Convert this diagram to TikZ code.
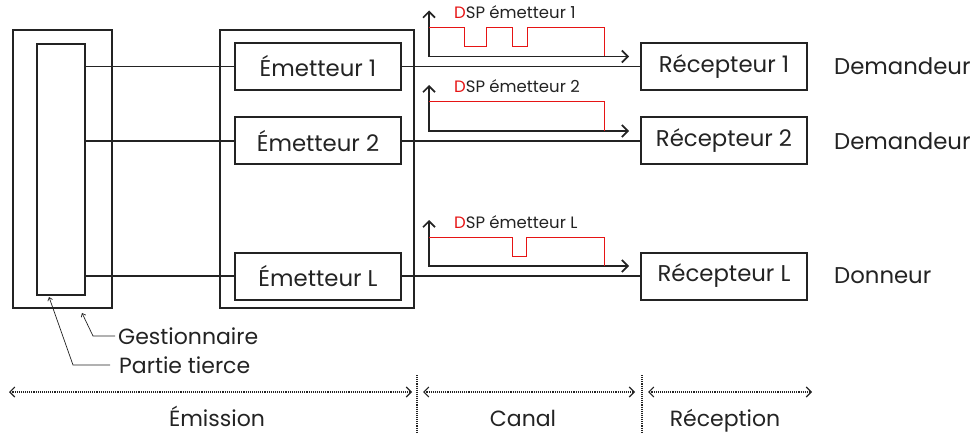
\documentclass[tikz,border=0pt]{standalone}
\usepackage{fontspec}
\setmainfont{Poppins}
\usetikzlibrary{arrows.meta, positioning, calc}
\definecolor{cInk}{RGB}{35,35,35}
\definecolor{cSig}{RGB}{230,20,20}
\tikzset{
	outerbox/.style={rectangle, draw=cInk, line width=2pt, inner sep=0pt},
	blk/.style     ={rectangle, draw=cInk, line width=2pt, minimum width=166pt, minimum height=47pt, inner sep=0pt, font=\fontsize{22.8}{26}\selectfont},
	wire/.style    ={draw=cInk, line width=1.8pt},
	axisarr/.style ={{Straight Barb[length=6pt,width=12pt]}-{Straight Barb[length=6pt,width=12pt]}, draw=cInk, line width=1.7pt},
	pulse/.style   ={draw=cSig, line width=1pt},
	siglbl/.style  ={anchor=base west, inner sep=0pt, font=\fontsize{16.5}{19}\selectfont},
	role/.style    ={anchor=west, inner sep=0pt, font=\fontsize{22.8}{26}\selectfont},
	notelbl/.style ={anchor=west, inner sep=0pt, font=\fontsize{22}{25}\selectfont},
	note/.style    ={-{Straight Barb[length=3pt,width=5pt]}, draw=cInk, line width=0.7pt},
	% bottom zones
	zone/.style    ={{Straight Barb[length=5pt,width=10pt]}-{Straight Barb[length=5pt,width=10pt]}, draw=cInk, densely dotted, line width=1.1pt},
	sep/.style     ={draw=cInk, densely dotted, line width=1.1pt},
	zonelbl/.style ={anchor=base, inner sep=0pt, font=\fontsize{22}{25}\selectfont},
}
\begin{document}
\begin{tikzpicture}[x=1pt, y=1pt, text=cInk]
	\useasboundingbox (0,0) rectangle (970,432);
	% manager and third party
	\node[outerbox, minimum width=99pt, minimum height=278pt] (gest) at (62.5,263) {};
	\node[outerbox, minimum width=48pt, minimum height=251pt] (tiers) at (61,262.5) {};
	% emission side
	\node[outerbox, minimum width=194pt, minimum height=278pt] (emis) at (317,263) {};
	\node[blk] (e1) at (318,365.5) {Émetteur 1};
	\node[blk] (e2) at (318,291) {Émetteur 2};
	\node[blk] (eL) at (318,156) {Émetteur L};
	% reception side
	\node[blk, right=238pt of e1] (r1) {Récepteur 1};
	\node[blk, right=238pt of e2] (r2) {Récepteur 2};
	\node[blk, right=238pt of eL] (rL) {Récepteur L};
	\node[role, right=26pt of r1] (d1) {Demandeur};
	\node[role, right=26pt of r2] (d2) {Demandeur};
	\node[role, right=26pt of rL] (dL) {Donneur};
	% wires
	\draw[wire] (tiers.east |- e1) -- (e1.west);
	\draw[wire] (tiers.east |- e2) -- (e2.west);
	\draw[wire] (tiers.east |- eL) -- (eL.west);
	\draw[wire] (e1) -- (r1);
	\draw[wire] (e2) -- (r2);
	\draw[wire] (eL) -- (rL);
	% DSP signals
	\coordinate (o1) at ($(e1.east)+(27,10)$);
	\draw[axisarr] ($(o1)+(0,46)$) -- (o1) -- ++(200,0);
	\draw[pulse] ($(o1)+(0,29)$) -- ++(35,0) -- ++(0,-19) -- ++(22,0) -- ++(0,19) -- ++(26,0) -- ++(0,-19) -- ++(15,0) -- ++(0,19) -- ++(77,0) -- ++(0,-29);
	\node[siglbl] (s1) at ($(o1)+(25,38)$) {\textcolor{cSig}{D}SP émetteur 1};
	\coordinate (o2) at ($(e2.east)+(27,10)$);
	\draw[axisarr] ($(o2)+(0,46)$) -- (o2) -- ++(200,0);
	\draw[pulse] ($(o2)+(0,29)$) -- ++(175,0) -- ++(0,-29);
	\node[siglbl] (s2) at ($(o2)+(25,38)$) {\textcolor{cSig}{D}SP émetteur 2};
	\coordinate (oL) at ($(eL.east)+(27,10)$);
	\draw[axisarr] ($(oL)+(0,46)$) -- (oL) -- ++(200,0);
	\draw[pulse] ($(oL)+(0,29)$) -- ++(83,0) -- ++(0,-19) -- ++(14,0) -- ++(0,19) -- ++(78,0) -- ++(0,-29);
	\node[siglbl] (sL) at ($(oL)+(25,38)$) {\textcolor{cSig}{D}SP émetteur L};
	% notes
	\node[notelbl] (gtxt) at (118,96) {Gestionnaire};
	\node[notelbl] (ptxt) at (119,67) {Partie tierce};
	\draw[note] ([xshift=-3pt]gtxt.west) -- ++(-22,0) -- ($(gest.south)+(19.5,-4)$);
	\draw[note] ([xshift=-9pt]ptxt.west) -- ++(-37,0) -- ($(tiers.south)+(-12,-1)$);
	% zones
	\coordinate (k1) at (417,57);
	\coordinate (k1b) at (417,0);
	\coordinate (k2) at (642,57);
	\coordinate (k2b) at (642,0);
	\draw[sep] (k1) -- (k1b);
	\draw[sep] (k2) -- (k2b);
	\coordinate (a0) at (9,40);
	\coordinate (a1) at (412,40);
	\coordinate (a2) at (423,40);
	\coordinate (a3) at (635,40);
	\coordinate (a4) at (648,40);
	\coordinate (a5) at (812,40);
	\draw[zone] (a0) -- (a1);
	\draw[zone] (a2) -- (a3);
	\draw[zone] (a4) -- (a5);
	\node[zonelbl] (zem) at (217,6) {Émission};
	\node[zonelbl] (zca) at (523,6) {Canal};
	\node[zonelbl] (zre) at (725,6) {Réception};
\end{tikzpicture}
\end{document}
